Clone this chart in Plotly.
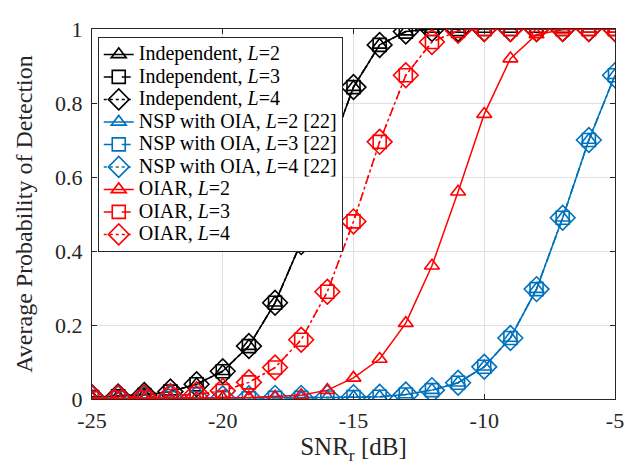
import plotly.graph_objects as go

snr = [-25, -24, -23, -22, -21, -20, -19, -18, -17, -16, -15, -14, -13, -12, -11, -10, -9, -8, -7, -6, -5]

indep = [0.005, 0.007, 0.011, 0.02, 0.04, 0.075, 0.143, 0.26, 0.424, 0.65, 0.843, 0.957, 0.993, 1.0, 1.0, 1.0, 1.0, 1.0, 1.0, 1.0, 1.0]
nsp = [0.002, 0.002, 0.002, 0.002, 0.002, 0.002, 0.002, 0.003, 0.003, 0.004, 0.005, 0.006, 0.012, 0.024, 0.044, 0.087, 0.165, 0.297, 0.49, 0.70, 0.875]
oiar2 = [0.001, 0.001, 0.001, 0.002, 0.002, 0.003, 0.004, 0.006, 0.01, 0.024, 0.057, 0.108, 0.205, 0.36, 0.56, 0.77, 0.92, 0.985, 0.998, 1.0, 1.0]
oiar34 = [0.003, 0.004, 0.005, 0.008, 0.013, 0.022, 0.045, 0.085, 0.16, 0.29, 0.48, 0.695, 0.875, 0.965, 0.995, 1.0, 1.0, 1.0, 1.0, 1.0, 1.0]

BLACK = "#000000"
BLUE = "#0072BD"
RED = "#FF0000"

series = [
    ("Independent, <i>L</i>=2", indep, BLACK, "solid", "triangle-up-open", 13),
    ("Independent, <i>L</i>=3", indep, BLACK, "dash", "square-open", 13),
    ("Independent, <i>L</i>=4", indep, BLACK, "dot", "diamond-open", 19),
    ("NSP with OIA, <i>L</i>=2 [22]", nsp, BLUE, "solid", "triangle-up-open", 13),
    ("NSP with OIA, <i>L</i>=3 [22]", nsp, BLUE, "dash", "square-open", 13),
    ("NSP with OIA, <i>L</i>=4 [22]", nsp, BLUE, "dot", "diamond-open", 19),
    ("OIAR, <i>L</i>=2", oiar2, RED, "solid", "triangle-up-open", 13),
    ("OIAR, <i>L</i>=3", oiar34, RED, "dash", "square-open", 13),
    ("OIAR, <i>L</i>=4", oiar34, RED, "dot", "diamond-open", 19),
]

fig = go.Figure()
for name, ys, col, dash, sym, size in series:
    fig.add_trace(go.Scatter(
        x=snr, y=ys, name='<span style="font-size:20px">' + name + '</span>',
        mode="lines+markers",
        line=dict(color=col, width=1.5, dash=dash),
        marker=dict(symbol=sym, size=size, color=col, line=dict(width=1.6, color=col)),
    ))

FONT = "Liberation Serif"
fig.update_layout(
    width=636, height=469,
    margin=dict(l=92, r=18, t=29, b=70),
    paper_bgcolor="white", plot_bgcolor="white",
    font=dict(family=FONT, color="#262626", size=22),
    showlegend=True,
    legend=dict(
        x=0.011, y=0.978, xanchor="left", yanchor="top",
        bgcolor="white", bordercolor="#262626", borderwidth=1,
        font=dict(family=FONT, size=15, color="#000000"),
        tracegroupgap=0, itemwidth=30,
    ),
    xaxis=dict(
        range=[-25, -5], tickvals=[-25, -20, -15, -10, -5],
        ticktext=["-25", "-20", "-15", "-10", "-5"],
        showgrid=True, gridcolor="#E0E0E0", gridwidth=1,
        zeroline=False, showline=True, linecolor="#262626", linewidth=1, mirror="ticks",
        ticks="inside", ticklen=5, tickcolor="#262626", ticklabelstandoff=2,
        title=dict(text="SNR<sub>r</sub> [dB]", font=dict(family=FONT, size=25, color="#262626"), standoff=2),
        tickfont=dict(family=FONT, size=22, color="#262626"),
    ),
    yaxis=dict(
        range=[0, 1], tickvals=[0, 0.2, 0.4, 0.6, 0.8, 1],
        ticktext=["0", "0.2", "0.4", "0.6", "0.8", "1"],
        showgrid=True, gridcolor="#E0E0E0", gridwidth=1,
        zeroline=False, showline=True, linecolor="#262626", linewidth=1, mirror="ticks",
        ticks="inside", ticklen=5, tickcolor="#262626", ticklabelstandoff=4,
        title=dict(text="Average Probability of Detection", font=dict(family=FONT, size=24, color="#262626"), standoff=15),
        tickfont=dict(family=FONT, size=22, color="#262626"),
    ),
)

fig.write_html("out.html")
